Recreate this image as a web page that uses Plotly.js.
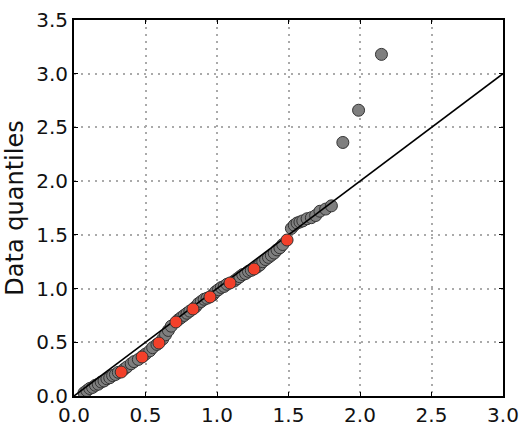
<!DOCTYPE html>
<html>
<head>
<meta charset="utf-8">
<script src="https://cdn.plot.ly/plotly-3.0.1.min.js"></script>
<style>html,body{margin:0;padding:0;background:#fff;}#chart{width:528px;height:430px;}</style>
</head>
<body>
<div id="chart"></div>
<script>
// Theoretical vs data quantiles (gray: all samples)
const grayX = [0.07,0.09,0.11,0.13,0.15,0.17,0.19,0.21,0.23,0.25,0.27,0.29,0.31,0.35,0.37,0.40,0.42,0.45,0.48,0.50,0.53,0.55,0.58,0.62,0.64,0.66,0.68,0.73,0.75,0.77,0.79,0.81,0.85,0.87,0.89,0.91,0.93,0.97,0.99,1.01,1.03,1.05,1.07,1.12,1.14,1.16,1.18,1.20,1.22,1.24,1.28,1.30,1.32,1.34,1.36,1.38,1.40,1.42,1.44,1.46,1.52,1.54,1.56,1.58,1.60,1.63,1.66,1.69,1.72,1.76,1.80,1.88,1.99,2.15];
const grayY = [0.03,0.05,0.07,0.08,0.10,0.11,0.13,0.14,0.16,0.17,0.19,0.20,0.22,0.25,0.27,0.30,0.32,0.34,0.37,0.39,0.42,0.45,0.48,0.53,0.57,0.61,0.65,0.71,0.73,0.75,0.77,0.79,0.83,0.86,0.88,0.90,0.91,0.94,0.97,0.99,1.01,1.02,1.04,1.07,1.09,1.11,1.13,1.14,1.16,1.17,1.20,1.22,1.25,1.27,1.29,1.31,1.33,1.36,1.38,1.41,1.56,1.59,1.61,1.62,1.63,1.65,1.66,1.68,1.72,1.74,1.77,2.36,2.66,3.18];
// Highlighted quantiles (red)
const redX = [0.33,0.476,0.594,0.713,0.832,0.951,1.091,1.259,1.49];
const redY = [0.223,0.363,0.493,0.689,0.81,0.922,1.052,1.182,1.452];
// Reference line y = x
const lineX = [0,3];
const lineY = [0,3];
const tickVals = [0,0.5,1,1.5,2,2.5,3,3.5];
const tickText = ["0.0","0.5","1.0","1.5","2.0","2.5","3.0","3.5"];

const traces = [
  {x: grayX, y: grayY, type: 'scatter', mode: 'markers',
   marker: {size: 12, color: '#7f7f7f', line: {color: '#333333', width: 1}}, hoverinfo: 'skip'},
  {x: lineX, y: lineY, type: 'scatter', mode: 'lines',
   line: {color: '#000000', width: 1.6}, hoverinfo: 'skip'},
  {x: redX, y: redY, type: 'scatter', mode: 'markers',
   marker: {size: 12, color: '#f2402a', line: {color: '#333333', width: 1}}, hoverinfo: 'skip'}
];

const axisCommon = {
  showline: true, linecolor: '#000', linewidth: 2, mirror: 'allticks',
  ticks: 'inside', ticklen: 4, tickwidth: 1, tickcolor: '#000',
  showgrid: true, gridcolor: '#aaaaaa', gridwidth: 2, griddash: '2px,5px',
  zeroline: false,
  tickfont: {family: 'DejaVu Sans', size: 20, color: '#111'}
};

const layout = {
  width: 528, height: 430,
  margin: {l: 74, r: 25, t: 20, b: 34},
  paper_bgcolor: '#fff', plot_bgcolor: '#fff',
  showlegend: false,
  xaxis: Object.assign({}, axisCommon, {range: [0,3], tickvals: tickVals.slice(0,7), ticktext: tickText.slice(0,7)}),
  yaxis: Object.assign({}, axisCommon, {range: [0,3.5], tickvals: tickVals, ticktext: tickText,
    title: {text: 'Data quantiles', font: {family: 'DejaVu Sans', size: 24, color: '#111'}, standoff: 6}})
};

Plotly.newPlot('chart', traces, layout, {staticPlot: true});
</script>
</body>
</html>
